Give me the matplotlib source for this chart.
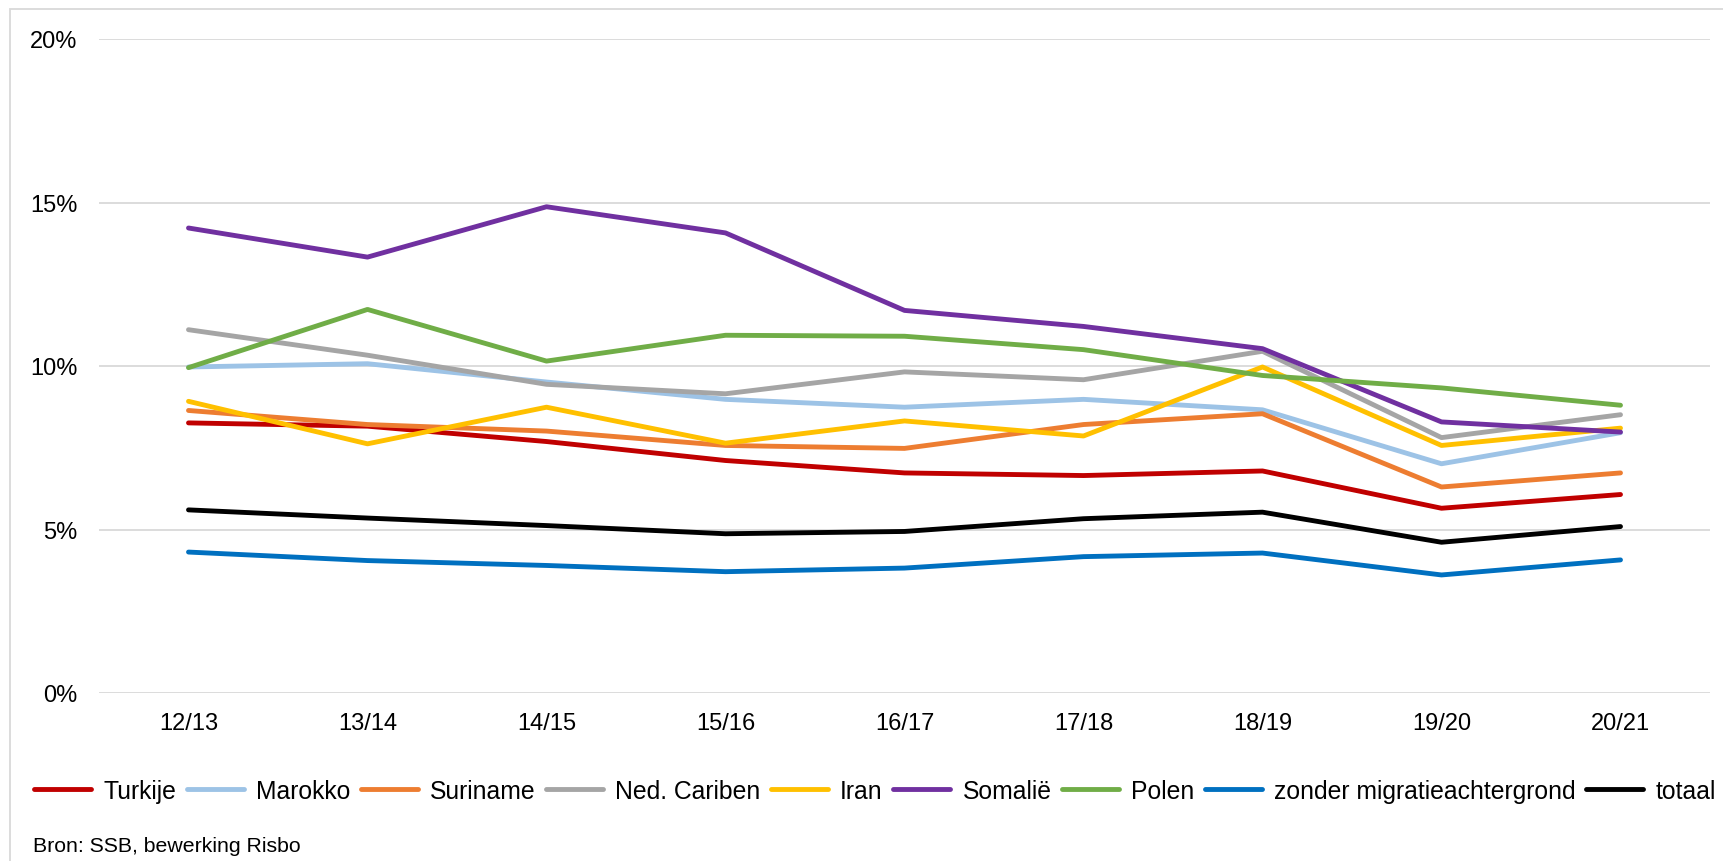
import matplotlib.pyplot as plt
from matplotlib.patches import Rectangle
from matplotlib.ticker import PercentFormatter

plt.rcParams["font.family"] = ["Liberation Sans", "DejaVu Sans"]

years = ["12/13", "13/14", "14/15", "15/16", "16/17", "17/18", "18/19", "19/20", "20/21"]

turkije = [8.26, 8.16, 7.69, 7.11, 6.73, 6.65, 6.79, 5.65, 6.07]
marokko = [9.97, 10.07, 9.51, 8.98, 8.74, 8.98, 8.66, 7.01, 7.96]
suriname = [8.64, 8.21, 8.01, 7.57, 7.48, 8.21, 8.54, 6.30, 6.73]
ned_cariben = [11.11, 10.33, 9.44, 9.15, 9.82, 9.58, 10.45, 7.81, 8.51]
iran = [8.92, 7.62, 8.74, 7.64, 8.32, 7.86, 9.97, 7.57, 8.10]
somalie = [14.22, 13.33, 14.87, 14.07, 11.70, 11.21, 10.53, 8.29, 7.98]
polen = [9.95, 11.73, 10.15, 10.94, 10.91, 10.50, 9.71, 9.33, 8.80]
zonder = [4.31, 4.05, 3.90, 3.71, 3.82, 4.17, 4.28, 3.61, 4.07]
totaal = [5.60, 5.35, 5.12, 4.87, 4.94, 5.33, 5.53, 4.61, 5.09]

series = [
    ("Turkije", turkije, "#C00000"),
    ("Marokko", marokko, "#9DC3E6"),
    ("Suriname", suriname, "#ED7D31"),
    ("Ned. Cariben", ned_cariben, "#A5A5A5"),
    ("Iran", iran, "#FFC000"),
    ("Somalië", somalie, "#7030A0"),
    ("Polen", polen, "#70AD47"),
    ("zonder migratieachtergrond", zonder, "#0070C0"),
    ("totaal", totaal, "#000000"),
]

fig = plt.figure(figsize=(17.24, 8.62), dpi=100)
ax = fig.add_axes([99 / 1724, 1 - 694 / 862, (1710 - 99) / 1724, (694 - 40) / 862])

x = range(len(years))
for name, values, color in series:
    ax.plot(x, values, color=color, linewidth=3.5, label=name, solid_capstyle="round")

ax.set_xlim(-0.5, len(years) - 0.5)
ax.set_ylim(0, 20)
ax.set_yticks([0, 5, 10, 15, 20])
ax.yaxis.set_major_formatter(PercentFormatter(decimals=0))
ax.set_xticks(list(x))
ax.set_xticklabels(years)
ax.tick_params(axis="both", length=0, labelsize=17, colors="black")
ax.tick_params(axis="y", pad=15.5)
ax.tick_params(axis="x", pad=14)
ax.grid(axis="y", color="#D9D9D9", linewidth=1.3)
ax.set_axisbelow(True)
for side in ["top", "right", "left", "bottom"]:
    ax.spines[side].set_visible(False)

fig.legend(
    loc="center",
    bbox_to_anchor=(0.5 + 13 / 1724, 1 - 792 / 862),
    ncol=9,
    frameon=False,
    fontsize=17.8,
    handlelength=2.3,
    handletextpad=0.5,
    columnspacing=0.42,
    borderaxespad=0,
)

fig.text(33 / 1724, 1 - 847 / 862, "Bron: SSB, bewerking Risbo", fontsize=15.3, va="center", ha="left")

fig.patches.append(
    Rectangle((10 / 1724, -0.01), 1.0, 1 - 10 / 862 + 0.01, transform=fig.transFigure,
              fill=False, edgecolor="#D9D9D9", linewidth=1.3)
)

fig.savefig("out.png", dpi=100)
